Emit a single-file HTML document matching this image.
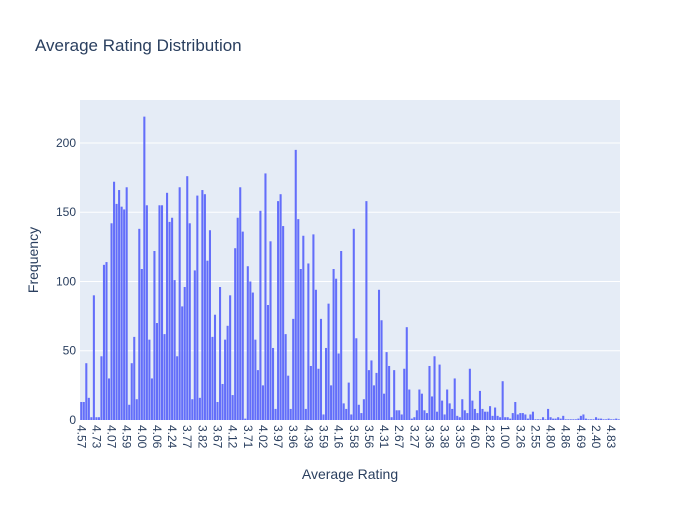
<!DOCTYPE html>
<html><head><meta charset="utf-8"><style>
body{margin:0;background:#fff;font-family:"Liberation Sans",Arial,sans-serif;}
svg text{font-family:"Liberation Sans",Arial,sans-serif;fill:#2a3f5f;}
</style></head><body>
<svg id="chart" width="700" height="500">
<rect x="0" y="0" width="700" height="500" fill="#fff"/>
<rect x="80" y="100" width="540" height="320" fill="#e5ecf6"/>
<g id="grid"></g><g id="bars"></g><g id="yticks"></g><g id="xticks"></g>
<text x="35" y="51" font-size="17">Average Rating Distribution</text>
<text x="350" y="479" font-size="14" text-anchor="middle">Average Rating</text>
<text transform="translate(38,260) rotate(-90)" font-size="14" text-anchor="middle">Frequency</text>
</svg>
<script>
const values = [13,13,41,16,2,90,2,2,46,112,114,30,142,172,156,166,154,152,168,11,41,60,15,138,109,219,155,58,30,122,70,155,155,62,164,143,146,
101,46,168,82,96,176,142,15,108,162,16,166,163,115,137,60,76,13,96,26,58,68,90,18,124,146,168,136,1,111,100,92,58,36,151,25,178,
83,129,52,8,158,163,140,62,32,8,73,195,145,109,133,8,113,39,134,94,37,73,4,52,84,25,109,102,48,122,12,8,27,4,138,
59,11,5,15,158,36,43,25,34,94,72,19,49,39,2,36,7,7,4,37,67,22,1,2,7,22,19,7,5,39,17,46,6,40,14,
4,22,12,8,30,3,2,15,7,5,37,14,8,5,21,8,6,6,10,3,9,3,2,28,2,2,1,5,13,4,5,5,4,1,4,6,
0.5,0.5,0.5,2,0.5,8,2,1,1,2,1,3,0.5,0.5,0.5,0.5,0.5,1,3,4,1,0.5,0.5,0.5,2,1,
1,0.5,0.5,1,0.5,0.5,1,0.5];
const tickLabels = ["4.57","4.73","4.07","4.59","4.00","4.06","4.24","3.77","3.82","3.67","4.12","3.71","4.02","3.97","3.96","4.39","3.59","4.16","3.58","3.56","4.31","2.67","3.27","3.36","3.38","3.35","4.60","2.82","1.00","3.26","2.55","4.80","4.86","4.69","2.40","4.83"];
const yTicks = [0,50,100,150,200];
const tickEvery = 6;
const yMax = 231;

const NS="http://www.w3.org/2000/svg";
const X0=80,W=540,Y0=420,H=320;
const step=W/values.length;
const xPos=i=>X0+i*step;
const yPos=v=>Y0-v/yMax*H;
const grid=document.getElementById('grid'),bars=document.getElementById('bars'),yt=document.getElementById('yticks'),xt=document.getElementById('xticks');
yTicks.forEach(t=>{
  if(t>0){const l=document.createElementNS(NS,'line');
  l.setAttribute('x1',X0);l.setAttribute('x2',X0+W);l.setAttribute('y1',yPos(t));l.setAttribute('y2',yPos(t));
  l.setAttribute('stroke','#fff');l.setAttribute('stroke-width','1');
  
  
  grid.appendChild(l);}
  const tx=document.createElementNS(NS,'text');
  tx.setAttribute('x',X0-4);tx.setAttribute('y',yPos(t)+4);tx.setAttribute('text-anchor','end');tx.setAttribute('font-size','12');
  tx.textContent=t;
  
  
  yt.appendChild(tx);
});
values.forEach((v,i)=>{
  const r=document.createElementNS(NS,'rect');
  const bw=step*0.82;
  r.setAttribute('x',xPos(i)+(step-bw)/2);r.setAttribute('width',bw);
  r.setAttribute('y',yPos(v));r.setAttribute('height',Y0-yPos(v));
  r.setAttribute('fill','#636efa');
  
  
  bars.appendChild(r);
});
tickLabels.forEach((lab,k)=>{
  const cx=xPos(k*tickEvery)+step/2;
  const tx=document.createElementNS(NS,'text');
  tx.setAttribute('transform','translate('+(cx-4)+',425) rotate(90)');
  tx.setAttribute('font-size','12');
  tx.textContent=lab;
  
  
  xt.appendChild(tx);
});
</script>
</body></html>
